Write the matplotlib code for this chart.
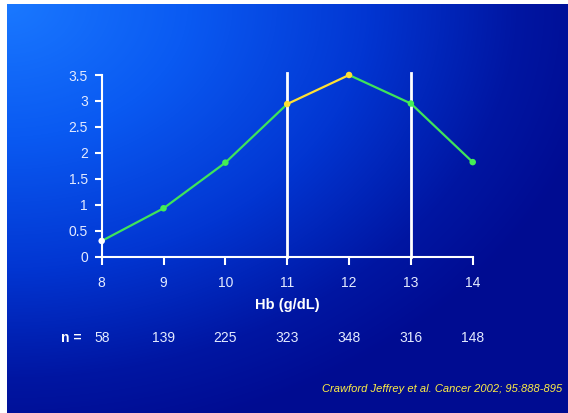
import numpy as np
import matplotlib
matplotlib.use("Agg")
import matplotlib.pyplot as plt
from matplotlib.colors import LinearSegmentedColormap
from matplotlib.transforms import blended_transform_factory

plt.rcParams['font.family'] = ['Liberation Sans', 'DejaVu Sans']

hb = [8, 9, 10, 11, 12, 13, 14]
values = [0.30, 0.93, 1.81, 2.94, 3.50, 2.95, 1.82]
n_counts = ["58", "139", "225", "323", "348", "316", "148"]
marker_colors = ["#ffffff", "#44ee55", "#44ee55", "#ffe033", "#ffe033", "#44ee55", "#44ee55"]
yticks = [0, 0.5, 1, 1.5, 2, 2.5, 3, 3.5]
ytick_labels = ["0", "0.5", "1", "1.5", "2", "2.5", "3", "3.5"]
vlines_x = [11, 13]
citation = "Crawford Jeffrey et al. Cancer 2002; 95:888-895"

W, H = 568, 413
fig = plt.figure(figsize=(W / 100, H / 100), dpi=100)
fig.patch.set_facecolor("white")

# background gradient
bg = fig.add_axes([7 / W, 0, 1 - 7 / W, 1 - 4 / H])
bg.set_axis_off()
yy, xx = np.mgrid[0:409, 0:561]
d = np.sqrt((xx / 600.0) ** 2 + (yy / 440.0) ** 2)
t = np.clip(d, 0, 1)
cmap = LinearSegmentedColormap.from_list(
    "bg", [(0.0, "#1a78ff"), (0.3, "#0a5af2"), (0.6, "#0236d2"), (0.85, "#0016a2"), (1.0, "#000c92")])
bg.imshow(t, cmap=cmap, vmin=0, vmax=1, aspect="auto", extent=[0, 1, 0, 1], origin="upper", interpolation="bilinear")

ax = fig.add_axes([101.7 / W, 1 - 256.5 / H, (472.7 - 101.7) / W, (256.5 - 75) / H])
ax.patch.set_alpha(0)
ax.set_xlim(8, 14)
ax.set_ylim(0, 3.5)

for x in vlines_x:
    ax.plot([x, x], [0, 3.54], color="white", lw=2, clip_on=False, zorder=2)

# line segments
for i in range(len(hb) - 1):
    col = "#ffe033" if hb[i] == 11 else "#3fe45a"
    ax.plot(hb[i:i + 2], values[i:i + 2], color=col, lw=1.6, clip_on=False, zorder=3)
ax.scatter(hb, values, c=marker_colors, s=22, zorder=4, clip_on=False, linewidths=0)

for s in ["top", "right"]:
    ax.spines[s].set_visible(False)
for s in ["left", "bottom"]:
    ax.spines[s].set_color("white")
    ax.spines[s].set_linewidth(1.5)

ax.set_xticks(hb)
ax.set_xticklabels([str(v) for v in hb])
ax.set_yticks(yticks)
ax.set_yticklabels(ytick_labels)
ax.tick_params(axis="both", colors="white", width=1.5, labelcolor="#e4ebff", labelsize=10)
ax.tick_params(axis="x", length=6, pad=8)
ax.tick_params(axis="y", length=5, pad=5)

ax.set_xlabel("Hb (g/dL)", color="white", fontsize=10.5, fontweight="bold", labelpad=6)

tr = blended_transform_factory(ax.transData, fig.transFigure)
ny = 1 - 338 / H
for x, n in zip(hb, n_counts):
    ax.text(x, ny, n, transform=tr, ha="center", va="center", color="#e4ebff", fontsize=10)
fig.text(61 / W, ny, "n =", ha="left", va="center", color="white", fontsize=10, fontweight="bold")

fig.text(562 / W, 1 - 389 / H, citation, ha="right", va="center", color="#ffee44",
         fontsize=8, style="italic")

fig.savefig("out.png", dpi=100, facecolor=fig.get_facecolor())
